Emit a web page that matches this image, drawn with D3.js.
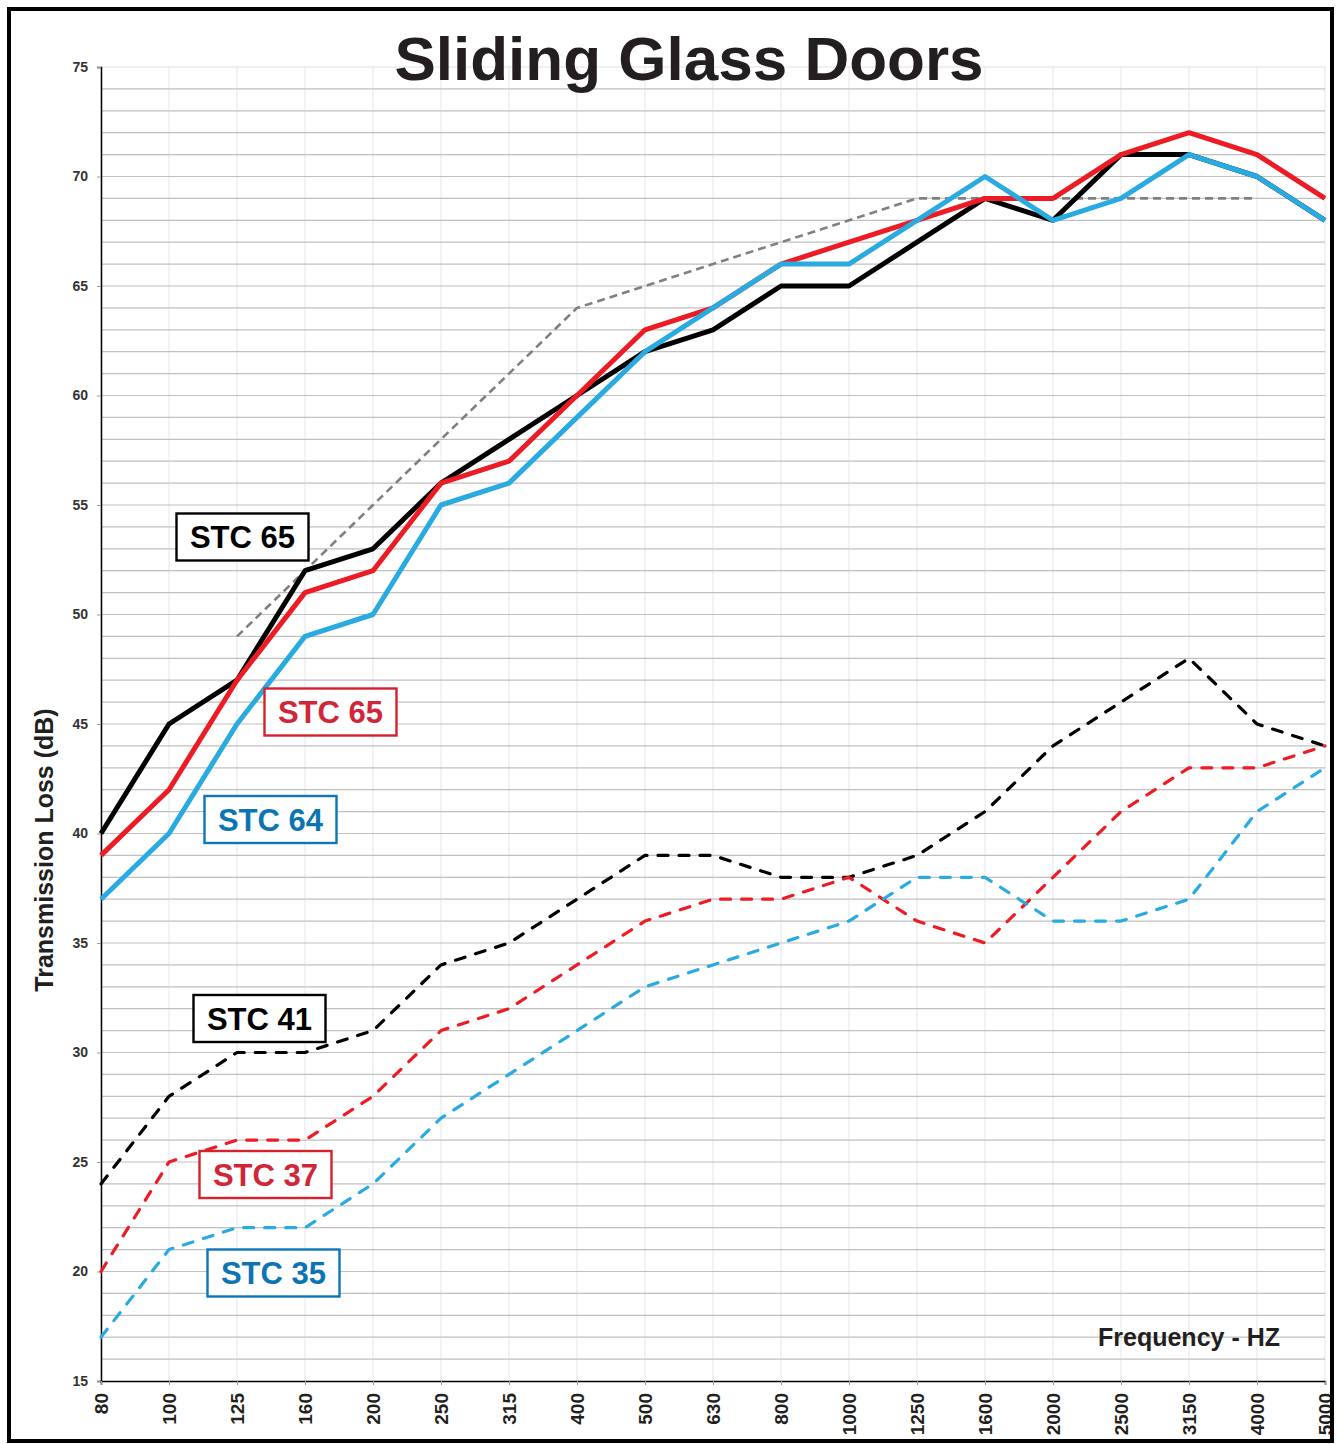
<!DOCTYPE html>
<html>
<head>
<meta charset="utf-8">
<script src="https://cdn.jsdelivr.net/npm/d3@7"></script>
<style>
  body { margin: 0; background: #fff; }
  svg { display: block; font-family: "Liberation Sans", Arial, sans-serif; }
</style>
</head>
<body>
<svg id="chart" width="1338" height="1444"></svg>
<script>
// third-octave bands (Hz)
const frequencies = ['80', '100', '125', '160', '200', '250', '315', '400', '500', '630',
    '800', '1000', '1250', '1600', '2000', '2500', '3150', '4000', '5000'];

const dbTicks = [15, 20, 25, 30, 35, 40, 45, 50, 55, 60, 65, 70, 75];

// solid lines
const stc65Black = [40, 45, 47, 52, 53, 56, 58, 60, 62, 63, 65, 65, 67, 69, 68, 71, 71, 70, 68];
const stc65Red = [39, 42, 47, 51, 52, 56, 57, 60, 63, 64, 66, 67, 68, 69, 69, 71, 72, 71, 69];
const stc64Blue = [37, 40, 45, 49, 50, 55, 56, 59, 62, 64, 66, 66, 68, 70, 68, 69, 71, 70, 68];

// dashed lines
const stc41Black = [24, 28, 30, 30, 31, 34, 35, 37, 39, 39, 38, 38, 39, 41, 44, 46, 48, 45, 44];
const stc37Red = [20, 25, 26, 26, 28, 31, 32, 34, 36, 37, 37, 38, 36, 35, 38, 41, 43, 43, 44];
const stc35Blue = [17, 21, 22, 22, 24, 27, 29, 31, 33, 34, 35, 36, 38, 38, 36, 36, 37, 41, 43];

// STC 65 reference contour (125 - 4000 Hz)
const stc65Contour = [null, null, 49, 52, 55, 58, 61, 64, 65, 66, 67, 68, 69, 69, 69, 69, 69, 69, null];

const svg = d3.select('#chart');
const W = 1338;

const x = d3.scalePoint().domain(frequencies).range([101, 1325]);
const y = d3.scaleLinear().domain([15, 75]).range([1381, 67]);

svg.append('rect').attr('width', W).attr('height', 1444).attr('fill', '#fff');

// grid
const grid = svg.append('g');
grid.selectAll('line.v')
    .data(frequencies)
    .join('line')
    .attr('class', 'v')
    .attr('x1', (d) => x(d))
    .attr('x2', (d) => x(d))
    .attr('y1', y(75))
    .attr('y2', y(15))
    .attr('stroke', '#e4e6ef')
    .attr('stroke-width', 1);

grid.selectAll('line.h')
    .data(d3.range(16, 76))
    .join('line')
    .attr('class', 'h')
    .attr('x1', x('80'))
    .attr('x2', x('5000'))
    .attr('y1', (d) => y(d))
    .attr('y2', (d) => y(d))
    .attr('stroke', (d) => (d === 75 ? '#e2e2e2' : '#c0c0c0'))
    .attr('stroke-width', 1.2);

// axes
const yAxis = svg.append('g')
    .attr('transform', `translate(${x('80')},0)`)
    .call(d3.axisLeft(y).tickValues(dbTicks).tickSize(4).tickPadding(9));
yAxis.select('.domain').attr('stroke', '#000').attr('stroke-width', 1.5);
yAxis.selectAll('.tick line').attr('stroke', '#999');
yAxis.selectAll('.tick text')
    .attr('font-size', 14)
    .attr('font-weight', 'bold')
    .attr('fill', '#333');

const xAxis = svg.append('g')
    .attr('transform', `translate(0,${y(15)})`)
    .call(d3.axisBottom(x).tickSize(4));
xAxis.select('.domain').attr('stroke', '#000').attr('stroke-width', 1.5);
xAxis.selectAll('.tick line').attr('stroke', '#999');
xAxis.selectAll('.tick text')
    .attr('transform', 'rotate(-90)')
    .attr('x', -12)
    .attr('y', 0)
    .attr('dy', '0.36em')
    .attr('text-anchor', 'end')
    .attr('font-size', 19)
    .attr('font-weight', 'bold')
    .attr('fill', '#231f20');

// lines
const line = d3.line()
    .defined((d) => d != null)
    .x((d, i) => x(frequencies[i]))
    .y((d) => y(d));

function drawSeries(values, color, width, dash, cap)
{
    svg.append('path')
        .datum(values)
        .attr('d', line)
        .attr('fill', 'none')
        .attr('stroke', color)
        .attr('stroke-width', width)
        .attr('stroke-linejoin', 'round')
        .attr('stroke-linecap', cap || 'butt')
        .attr('stroke-dasharray', dash || null);
}

drawSeries(stc41Black, '#000000', 3.2, '10,11', 'round');
drawSeries(stc37Red, '#ed1c24', 3.2, '10,11', 'round');
drawSeries(stc35Blue, '#29abe2', 3.2, '10,11', 'round');

drawSeries(stc65Contour, '#808080', 2.6, '8,5');

drawSeries(stc65Black, '#000000', 5);
drawSeries(stc65Red, '#ed1c24', 5);
drawSeries(stc64Blue, '#29abe2', 5);

// labels
const labelBoxes = [
    { text: 'STC 65', cx: 242.5, cy: 537, stroke: '#000000', fill: '#000000' },
    { text: 'STC 65', cx: 330.5, cy: 712, stroke: '#d5222d', fill: '#d0263a' },
    { text: 'STC 64', cx: 270.5, cy: 819.5, stroke: '#0b77b8', fill: '#0b74b3' },
    { text: 'STC 41', cx: 259.5, cy: 1018.5, stroke: '#000000', fill: '#000000' },
    { text: 'STC 37', cx: 265.5, cy: 1174.5, stroke: '#d5222d', fill: '#d0263a' },
    { text: 'STC 35', cx: 273.5, cy: 1273, stroke: '#0b77b8', fill: '#0b74b3' },
];

const boxes = svg.selectAll('g.lbl')
    .data(labelBoxes)
    .join('g')
    .attr('class', 'lbl');

boxes.append('rect')
    .attr('x', (d) => d.cx - 66)
    .attr('y', (d) => d.cy - 23.5)
    .attr('width', 132)
    .attr('height', 47)
    .attr('fill', '#fff')
    .attr('stroke', (d) => d.stroke)
    .attr('stroke-width', 2.4);

boxes.append('text')
    .attr('x', (d) => d.cx)
    .attr('y', (d) => d.cy + 11)
    .attr('text-anchor', 'middle')
    .attr('font-size', 31)
    .attr('font-weight', 'bold')
    .attr('fill', (d) => d.fill)
    .text((d) => d.text);

// titles
svg.append('text')
    .attr('x', 689)
    .attr('y', 80)
    .attr('text-anchor', 'middle')
    .attr('font-size', 62)
    .attr('font-weight', 'bold')
    .attr('fill', '#231f20')
    .text('Sliding Glass Doors');

svg.append('text')
    .attr('transform', 'translate(53,850) rotate(-90)')
    .attr('text-anchor', 'middle')
    .attr('font-size', 25)
    .attr('font-weight', 'bold')
    .attr('fill', '#231f20')
    .text('Transmission Loss (dB)');

svg.append('text')
    .attr('x', 1280)
    .attr('y', 1346)
    .attr('text-anchor', 'end')
    .attr('font-size', 25)
    .attr('font-weight', 'bold')
    .attr('fill', '#231f20')
    .text('Frequency - HZ');

// outer frame
svg.append('rect')
    .attr('x', 9)
    .attr('y', 9)
    .attr('width', 1323)
    .attr('height', 1432)
    .attr('fill', 'none')
    .attr('stroke', '#000')
    .attr('stroke-width', 4);
</script>
</body>
</html>
